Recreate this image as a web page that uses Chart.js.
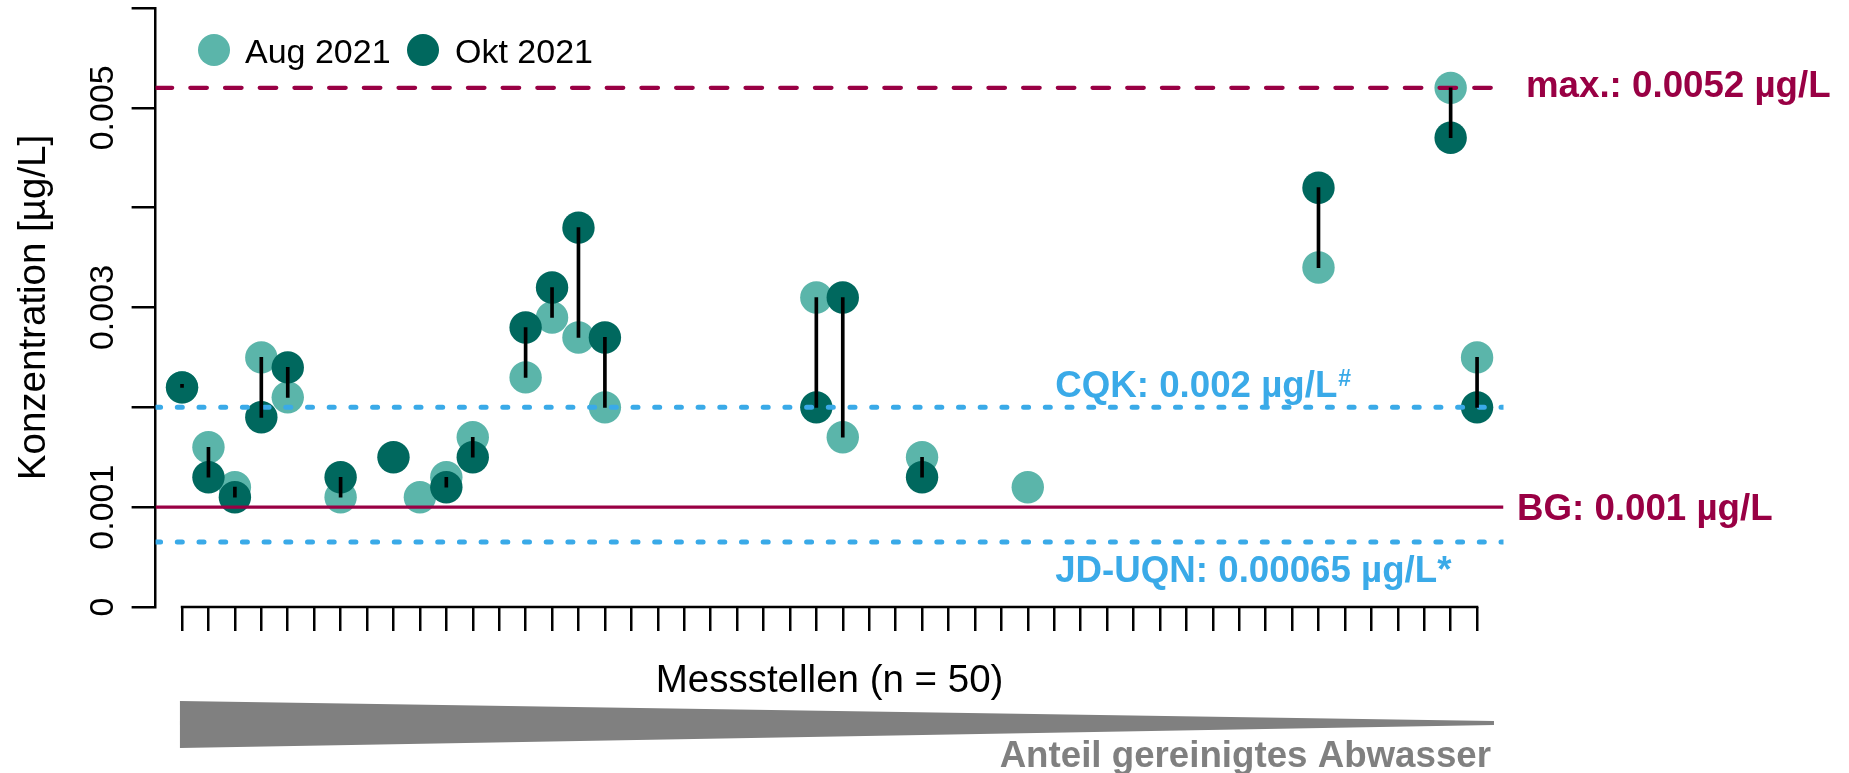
<!DOCTYPE html>
<html>
<head>
<meta charset="utf-8">
<script src="https://cdn.jsdelivr.net/npm/chart.js@4.4.0/dist/chart.umd.min.js"></script>
<style>
html,body{margin:0;padding:0;background:#ffffff;}
#wrap{width:1849px;height:773px;position:relative;}
</style>
</head>
<body>
<div id="wrap"><canvas id="c" width="1849" height="773"></canvas></div>
<script>
// ---------- data ----------
const stations = [1,2,3,4,5,6,7,8,9,10,11,12,13,14,15,16,17,18,19,20,21,22,23,24,25,26,27,28,29,30,31,32,33,34,35,36,37,38,39,40,41,42,43,44,45,46,47,48,49,50];
const seriesNames = ['Aug 2021', 'Okt 2021'];
const aug2021 = [0.0022,0.0016,0.0012,0.0025,0.0021,null,0.0011,null,null,0.0011,
                 0.0013,0.0017,null,0.0023,0.0029,0.0027,0.0020,null,null,null,
                 null,null,null,null,0.0031,0.0017,null,null,0.0015,null,
                 null,null,0.0012,null,null,null,null,null,null,null,
                 null,null,null,0.0034,null,null,null,null,0.0052,0.0025];
const okt2021 = [0.0022,0.0013,0.0011,0.0019,0.0024,null,0.0013,null,0.0015,null,
                 0.0012,0.0015,null,0.0028,0.0032,0.0038,0.0027,null,null,null,
                 null,null,null,null,0.0020,0.0031,null,null,0.0013,null,
                 null,null,null,null,null,null,null,null,null,null,
                 null,null,null,0.0042,null,null,null,null,0.0047,0.0020];
const refNames  = ['max.: 0.0052 µg/L', 'BG: 0.001 µg/L', 'CQK: 0.002 µg/L', 'JD-UQN: 0.00065 µg/L*'];
const refValues = [0.0052, 0.001, 0.002, 0.00065];
const yTickValues = [0, 0.001, 0.002, 0.003, 0.004, 0.005, 0.006];
const yTickLabels = ['0', '0.001', '', '0.003', '', '0.005', ''];
const xTitle = 'Messstellen (n = 50)';
const yTitle = 'Konzentration [µg/L]';
const wedgeLabel = 'Anteil gereinigtes Abwasser';

// ---------- styles ----------
const FONT = "'Liberation Sans', Arial, Helvetica, sans-serif";
const colAug = '#5bb5aa', colOkt = '#00685e', colRed = '#990044', colBlue = '#3aaae8', colGray = '#808080';
const xMin = 0, xMax = 51;

const pts = arr => stations.map((s, i) => arr[i] == null ? null : {x: s, y: arr[i]}).filter(Boolean);
const ranges = stations.map((s, i) => (aug2021[i] != null && okt2021[i] != null) ? {x: s, y: [aug2021[i], okt2021[i]]} : null).filter(Boolean);
const refLine = v => [{x: xMin, y: v}, {x: xMax, y: v}];

const annotations = {
  id: 'annotations',
  afterDraw(chart) {
    const ctx = chart.ctx, xs = chart.scales.x, ys = chart.scales.y, ca = chart.chartArea;
    ctx.save();
    // x axis line (from first to last station, R style)
    ctx.strokeStyle = '#000'; ctx.lineWidth = 2.5; ctx.lineCap = 'butt';
    ctx.beginPath();
    ctx.moveTo(xs.getPixelForValue(stations[0]) - 1.25, ca.bottom);
    ctx.lineTo(xs.getPixelForValue(stations[stations.length - 1]) + 1.25, ca.bottom);
    ctx.stroke();

    // y tick labels (rotated)
    ctx.fillStyle = '#000';
    ctx.font = '34px ' + FONT;
    ctx.textAlign = 'center'; ctx.textBaseline = 'alphabetic';
    yTickValues.forEach((v, i) => {
      if (!yTickLabels[i]) return;
      ctx.save();
      ctx.translate(113.3, ys.getPixelForValue(v));
      ctx.rotate(-Math.PI / 2);
      ctx.fillText(yTickLabels[i], 0, 0);
      ctx.restore();
    });

    // axis titles
    ctx.font = '38.5px ' + FONT;
    ctx.save();
    ctx.translate(45, (ca.top + ca.bottom) / 2);
    ctx.rotate(-Math.PI / 2);
    ctx.fillText(yTitle, 0, 0);
    ctx.restore();
    ctx.fillText(xTitle, xs.getPixelForValue((stations[0] + stations[stations.length - 1]) / 2), 692);

    // legend
    const leg = [{name: seriesNames[0], col: colAug, cx: 214, tx: 245},
                 {name: seriesNames[1], col: colOkt, cx: 423, tx: 455}];
    ctx.font = '34px ' + FONT; ctx.textAlign = 'left';
    leg.forEach(l => {
      ctx.fillStyle = l.col;
      ctx.beginPath(); ctx.arc(l.cx, 50, 16, 0, Math.PI * 2); ctx.fill();
      ctx.fillStyle = '#000';
      ctx.fillText(l.name, l.tx, 63);
    });

    // reference line labels
    ctx.font = 'bold 36.7px ' + FONT; ctx.textAlign = 'left';
    ctx.fillStyle = colRed;
    ctx.fillText(refNames[0], ca.right + 22.5, ys.getPixelForValue(refValues[0]) + 9);
    ctx.fillText(refNames[1], ca.right + 13.5, ys.getPixelForValue(refValues[1]) + 13);
    ctx.fillStyle = colBlue;
    const lx = xs.getPixelForValue(34) + 1;
    const yC = ys.getPixelForValue(refValues[2]) - 10.7;
    ctx.fillText(refNames[2], lx, yC);
    const w = ctx.measureText(refNames[2]).width;
    ctx.font = 'bold 23px ' + FONT;
    ctx.fillText('#', lx + w + 1, yC - 11);
    ctx.font = 'bold 36.7px ' + FONT;
    ctx.fillText(refNames[3], lx, ys.getPixelForValue(refValues[3]) + 39.6);

    // wedge (share of treated wastewater)
    const wx0 = xs.getPixelForValue(0.92), wx1 = xs.getPixelForValue(50.64);
    ctx.fillStyle = colGray;
    ctx.beginPath();
    ctx.moveTo(wx0, 701); ctx.lineTo(wx1, 721); ctx.lineTo(wx1, 725); ctx.lineTo(wx0, 748);
    ctx.closePath(); ctx.fill();
    ctx.font = 'bold 36.7px ' + FONT; ctx.textAlign = 'right';
    ctx.fillText(wedgeLabel, wx1 - 3, 767);
    ctx.restore();
  }
};

new Chart(document.getElementById('c'), {
  type: 'scatter',
  data: {
    datasets: [
      {type: 'bar', label: 'range', data: ranges, backgroundColor: '#000000', borderWidth: 0,
       barThickness: 3, minBarLength: 3},
      {type: 'line', label: refNames[0], data: refLine(refValues[0]), borderColor: colRed, borderWidth: 4.2,
       borderDash: [16.6, 18.1], borderCapStyle: 'round', pointRadius: 0, fill: false},
      {type: 'line', label: refNames[1], data: refLine(refValues[1]), borderColor: colRed, borderWidth: 3.2,
       pointRadius: 0, fill: false},
      {type: 'line', label: refNames[2], data: refLine(refValues[2]), borderColor: colBlue, borderWidth: 5,
       borderDash: [5, 16.7], borderCapStyle: 'round', pointRadius: 0, fill: false},
      {type: 'line', label: refNames[3], data: refLine(refValues[3]), borderColor: colBlue, borderWidth: 5,
       borderDash: [5, 16.7], borderCapStyle: 'round', pointRadius: 0, fill: false},
      {type: 'scatter', label: seriesNames[1], data: pts(okt2021), pointBackgroundColor: colOkt,
       pointBorderWidth: 0, pointRadius: 16.2, pointHoverRadius: 16.2},
      {type: 'scatter', label: seriesNames[0], data: pts(aug2021), pointBackgroundColor: colAug,
       pointBorderWidth: 0, pointRadius: 16.2, pointHoverRadius: 16.2}
    ]
  },
  options: {
    responsive: false,
    animation: false,
    events: [],
    layout: {padding: {top: 8, right: 345.5, bottom: 0, left: 0}, autoPadding: false},
    plugins: {legend: {display: false}, tooltip: {enabled: false}, title: {display: false}},
    scales: {
      x: {
        type: 'linear', min: xMin, max: xMax, offset: false,
        afterBuildTicks: s => { s.ticks = stations.map(v => ({value: v})); },
        afterFit: s => { s.height = 166; },
        ticks: {display: false},
        grid: {offset: false, drawOnChartArea: false, drawTicks: true, tickLength: 24,
               tickColor: '#000', tickWidth: 2.5, color: '#000', lineWidth: 2.5},
        border: {display: false}
      },
      y: {
        type: 'linear', min: 0, max: 0.006,
        afterBuildTicks: s => { s.ticks = yTickValues.map(v => ({value: v})); },
        afterFit: s => { s.width = 155.6; },
        ticks: {display: false},
        grid: {drawOnChartArea: false, drawTicks: true, tickLength: 24,
               tickColor: '#000', tickWidth: 2.5, color: '#000', lineWidth: 2.5},
        border: {display: true, color: '#000', width: 2.5}
      }
    }
  },
  plugins: [annotations]
});
</script>
</body>
</html>
